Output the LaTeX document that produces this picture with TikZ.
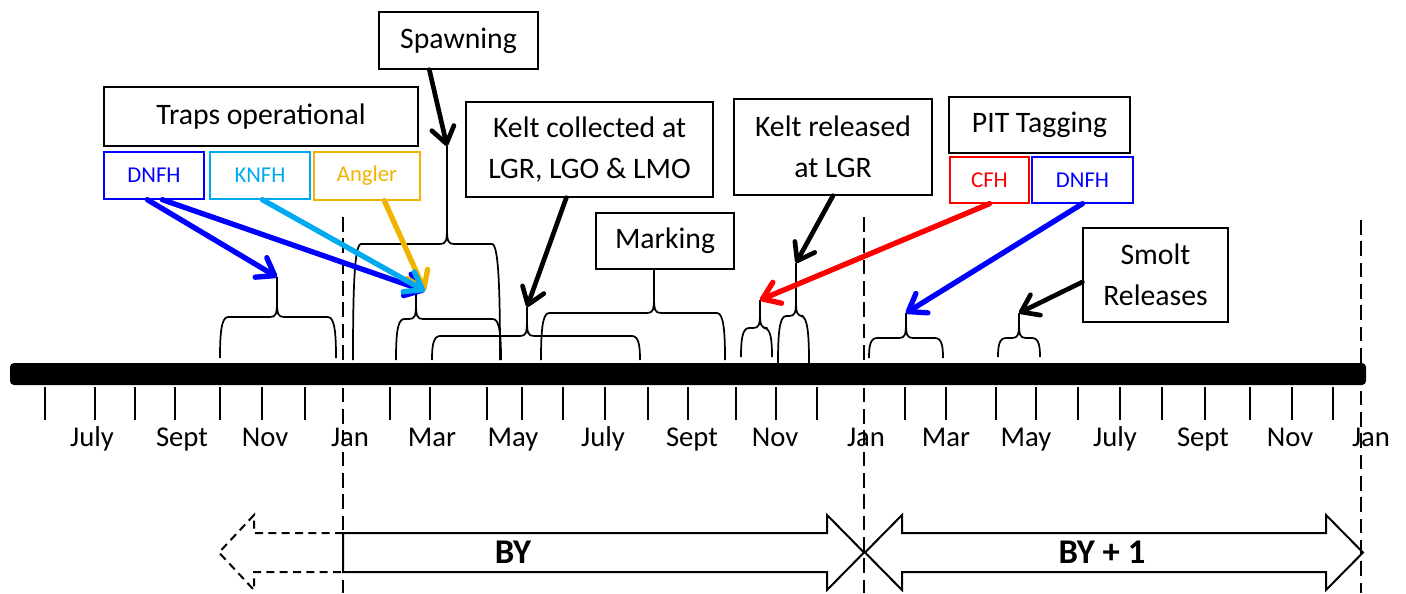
\documentclass[tikz,border=0pt]{standalone}
\usepackage{fontspec}
\setmainfont{Carlito}
\usetikzlibrary{arrows.meta,calc}
\definecolor{cdnfh}{RGB}{0,0,255}
\definecolor{cknfh}{RGB}{0,170,240}
\definecolor{cangler}{RGB}{240,180,0}
\definecolor{ccfh}{RGB}{255,0,0}
\newcommand\tlbrace[7]{%
  \coordinate (#7) at (#3,#6);
  \draw[brc] (#1,#4) .. controls (#1,{#5+0.45*(#4-#5)}) and (#1+1,#5) .. (#1+8,#5) -- (#3-7,#5) .. controls (#3-1,#5) and (#3,#5-3) .. (#3,#5-16) -- (#7);
  \draw[brc] (#2,#4) .. controls (#2,{#5+0.45*(#4-#5)}) and (#2-1,#5) .. (#2-8,#5) -- (#3+7,#5) .. controls (#3+1,#5) and (#3,#5-3) .. (#3,#5-16);
}
\begin{document}
\begin{tikzpicture}[x=0.75pt,y=-0.75pt,
  bigbox/.style={draw, line width=1pt, fill=white, inner sep=0pt, align=center, font=\fontsize{22.3}{31}\selectfont},
  cbox/.style={draw=#1, text=#1, line width=1pt, fill=white, inner sep=0pt, font=\fontsize{17}{20}\selectfont},
  brc/.style={line width=1.3pt, line join=round},
  arr/.style={line width=3.5pt, line cap=round, -{Straight Barb[length=12pt,width=17pt,round]}},
  carr/.style={arr, line width=4pt},
  tickmark/.style={line width=1.3pt},
  vdash/.style={line width=1.5pt, dash pattern=on 11pt off 5pt},
  mlab/.style={anchor=base, inner sep=0pt, font=\fontsize{21.5}{24}\selectfont},
  bylab/.style={anchor=base, inner sep=0pt, font=\fontsize{26}{28}\selectfont\bfseries},
  blockarrow/.style={line width=1.5pt, line join=miter}
]
\useasboundingbox (0,0) rectangle (1406,593);

% dashed year separators
\coordinate (j1t) at (343,217); \coordinate (j1b) at (343,593);
\coordinate (j2t) at (864,217); \coordinate (j2b) at (864,593);
\coordinate (j3t) at (1361,220); \coordinate (j3b) at (1361,593);
\draw[vdash] (j1t) -- (j1b);
\draw[vdash] (j2t) -- (j2b);
\draw[vdash] (j3t) -- (j3b);

% braces
\tlbrace{220}{336}{277}{358}{317}{277}{bTraps}
\tlbrace{353}{500}{447}{360}{244}{146}{bSpawn}
\tlbrace{396}{501}{416}{360}{319}{293}{bTrapsB}
\tlbrace{432}{640}{527}{360}{336}{307}{bKeltC}
\tlbrace{541}{725}{654}{360}{313}{269}{bMark}
\tlbrace{741}{772}{760}{357}{328}{300}{bCFH}
\tlbrace{778}{809}{796}{363}{316}{263}{bKeltR}
\tlbrace{869}{943}{906}{358}{338}{313}{bDNFH}
\tlbrace{998}{1040}{1019}{357}{338}{313}{bSmolt}
\coordinate (tB) at (425,291);

% timeline bar
\fill[rounded corners=3pt] (10,363) rectangle (1366,385);
\foreach \x in {45,95,135,175,220,262,305,390,430,487,522,563,605,648,688,736,776,817,905,946,996,1036,1078,1120,1162,1205,1250,1292,1333}
  \draw[tickmark] (\x,387) -- (\x,420);
\foreach \x/\m in {92/July,182/Sept,265/Nov,350/Jan,432/Mar,513/May,603/July,692/Sept,775/Nov,866/Jan,946/Mar,1026/May,1115/July,1203/Sept,1290/Nov,1371/Jan}
  \node[mlab] (m\x) at (\x,446) {\m};

% boxes
\node[bigbox, minimum width=235.5pt, minimum height=44.25pt] (traps) at (261,116.5) {Traps operational};
\node[bigbox, minimum width=119.25pt, minimum height=42.75pt] (spawn) at (458.5,40.5) {Spawning};
\node[bigbox, minimum width=185.25pt, minimum height=71.25pt] (keltc) at (589.5,149.5) {Kelt collected at\\LGR, LGO \& LMO};
\node[bigbox, minimum width=148.5pt, minimum height=72pt] (keltr) at (833,147) {Kelt released\\at LGR};
\node[bigbox, minimum width=103.5pt, minimum height=42pt] (mark) at (665,241) {Marking};
\node[bigbox, minimum width=135.75pt, minimum height=42pt] (pit) at (1039.5,125) {PIT Tagging};
\node[bigbox, minimum width=108.75pt, minimum height=70.5pt] (smolt) at (1155.5,275) {Smolt\\Releases};
\node[cbox=cdnfh, minimum width=75pt, minimum height=35.25pt] (dnfhA) at (154,175.5) {DNFH};
\node[cbox=cknfh, minimum width=75pt, minimum height=35.25pt] (knfh) at (260,175.5) {KNFH};
\node[cbox=cangler, minimum width=79.5pt, minimum height=36pt] (angler) at (367,176) {Angler};
\node[cbox=ccfh, minimum width=59.25pt, minimum height=34.5pt] (cfh) at (989.5,180) {CFH};
\node[cbox=cdnfh, minimum width=75.75pt, minimum height=34.5pt] (dnfhB) at (1082.5,180) {DNFH};

% arrows
\draw[carr, cdnfh] ($(dnfhA.south west)+(44,0)$) -- (bTraps);
\draw[carr, cdnfh] ($(dnfhA.south west)+(59,0)$) -- (tB);
\draw[carr, cangler] ($(angler.south west)+(71,0)$) -- (tB);
\draw[carr, cknfh] ($(knfh.south west)+(53,0)$) -- (tB);
\draw[arr] ($(spawn.south west)+(51,0)$) -- (bSpawn);
\draw[arr] ($(keltc.south west)+(101,0)$) -- (bKeltC);
\draw[arr] (keltr.south) -- (bKeltR);
\draw[carr, ccfh] (cfh.south) -- (bCFH);
\draw[carr, cdnfh] (dnfhB.south) -- (bDNFH);
\draw[arr] ($(smolt.west)+(0,7)$) -- (bSmolt);

% brood year arrows
\draw[blockarrow, dash pattern=on 6pt off 4pt] (343,533) -- (254,533) -- (254,515) -- (219,552.5) -- (254,590) -- (254,572) -- (343,572);
\draw[blockarrow] (343,533) -- (827,533) -- (827,515) -- (864,552.5) -- (827,590) -- (827,572) -- (343,572) -- cycle;
\draw[blockarrow] (865,552.5) -- (902,515) -- (902,533) -- (1326,533) -- (1326,515) -- (1363,552.5) -- (1326,590) -- (1326,572) -- (902,572) -- (902,590) -- cycle;
\node[bylab] (by) at (513,563) {BY};
\node[bylab] (by1) at (1102,563) {BY + 1};
\end{tikzpicture}
\end{document}
